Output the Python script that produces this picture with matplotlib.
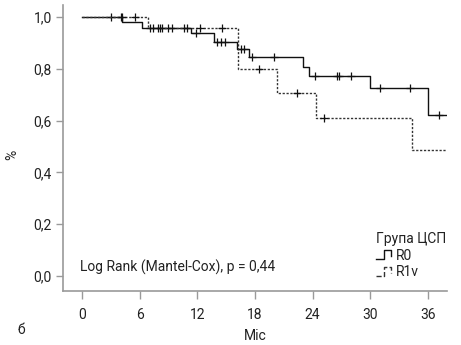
import numpy as np
import matplotlib
matplotlib.use("Agg")
import matplotlib.pyplot as plt
from matplotlib.lines import Line2D
from matplotlib.legend_handler import HandlerBase
from matplotlib.ticker import FuncFormatter

# Kaplan-Meier estimates: event times and survival after each event
r0_times = [4.1, 6.2, 11.3, 13.7, 16.1, 17.4, 23.0, 23.6, 30.0, 36.0]
r0_surv = [0.979, 0.958, 0.936, 0.905, 0.878, 0.846, 0.808, 0.772, 0.727, 0.622]
r0_censored = [3.0, 4.0, 7.1, 7.9, 8.3, 8.9, 10.6, 11.9, 14.0, 14.5, 14.9,
               16.5, 16.9, 17.7, 20.0, 24.2, 26.5, 26.7, 28.0, 31.0, 34.1, 37.2]

r1_times = [6.9, 16.2, 20.3, 24.4, 34.4]
r1_surv = [0.958, 0.798, 0.708, 0.609, 0.486]
r1_censored = [4.1, 5.5, 7.4, 8.1, 9.4, 10.9, 12.3, 14.6, 18.4, 22.4, 25.2]

follow_up_end = 38.0
x_ticks = [0, 6, 12, 18, 24, 30, 36]
y_ticks = [0.0, 0.2, 0.4, 0.6, 0.8, 1.0]
group_labels = ["R0", "R1v"]
legend_title = "Група ЦСП"
test_text = "Log Rank (Mantel-Cox), p = 0,44"

plt.rcParams['font.family'] = ['Roboto', 'DejaVu Sans']
plt.rcParams['font.size'] = 10

solid_style = dict(color="#111111", linewidth=1.0, linestyle="-")
dotted_style = dict(color="#333333", linewidth=1.0, linestyle=(0, (1.6, 1.2)))
axis_grey = "#9a9a9a"
text_color = "#222222"


def step_path(times, surv):
    xs = np.concatenate([[0.0], times, [follow_up_end]])
    ys = np.concatenate([[1.0], surv, [surv[-1]]])
    return xs, ys


def surv_at(times, surv, t):
    val = 1.0
    for ti, si in zip(times, surv):
        if ti <= t:
            val = si
    return val


class StepHandler(HandlerBase):
    def create_artists(self, legend, orig_handle, xdescent, ydescent,
                       width, height, fontsize, trans):
        fx = np.array([0.0, 0.55, 0.55, 1.0, 1.0])
        fy = np.array([0.05, 0.05, 0.95, 0.95, 0.35])
        line = Line2D(fx * width - xdescent, fy * height - ydescent,
                      color=orig_handle.get_color(),
                      linewidth=orig_handle.get_linewidth(),
                      linestyle=orig_handle.get_linestyle())
        line.set_transform(trans)
        return [line]


fig = plt.figure(figsize=(4.61, 3.45), dpi=100)
ax = fig.add_axes([0.1367, 0.1565, 0.833, 0.829])

handles = []
for times, surv, cens, style, lab in [
        (r0_times, r0_surv, r0_censored, solid_style, group_labels[0]),
        (r1_times, r1_surv, r1_censored, dotted_style, group_labels[1])]:
    xs, ys = step_path(times, surv)
    ln, = ax.step(xs, ys, where="post", label=lab, **style)
    cy = [surv_at(times, surv, t) for t in cens]
    ax.plot(cens, cy, linestyle="none", marker="+", markersize=6,
            markeredgewidth=0.9, color="#111111")
    handles.append(ln)

ax.set_xlim(-2, 38)
ax.set_ylim(-0.058, 1.046)
ax.set_xticks(x_ticks)
ax.set_yticks(y_ticks)
ax.yaxis.set_major_formatter(FuncFormatter(lambda v, p: f"{v:.1f}".replace(".", ",")))

for side in ["top", "right"]:
    ax.spines[side].set_visible(False)
for side in ["left", "bottom"]:
    ax.spines[side].set_color(axis_grey)
    ax.spines[side].set_linewidth(1.2)
ax.tick_params(axis="both", colors=axis_grey, labelcolor=text_color,
               labelsize=10, width=1.0)
ax.tick_params(axis="x", length=6, pad=6)
ax.tick_params(axis="y", length=5, pad=3)

# axis titles
ax.text(0.5, -0.158, "Міс", transform=ax.transAxes, fontsize=10,
        color=text_color, ha="center", va="center")
ax.text(-0.133, 0.476, "%", transform=ax.transAxes, fontsize=10,
        color=text_color, ha="center", va="center", rotation=90)

ax.text(0.044, 0.084, test_text, transform=ax.transAxes, fontsize=10,
        color=text_color, ha="left", va="center")

leg = ax.legend(handles=handles, labels=group_labels, title=legend_title,
                handler_map={Line2D: StepHandler()},
                loc="upper right", bbox_to_anchor=(0.997, 0.207),
                frameon=False, fontsize=10, title_fontsize=10,
                alignment="left", handlelength=1.1, handleheight=0.7,
                handletextpad=0.35, labelspacing=0.2,
                borderpad=0, borderaxespad=0)
for t in leg.get_texts():
    t.set_color(text_color)
leg.get_title().set_color(text_color)

fig.text(17 / 461, 1 - 330 / 345, "б", fontsize=10, color=text_color,
         ha="left", va="center")

fig.savefig("out.png", dpi=100)
